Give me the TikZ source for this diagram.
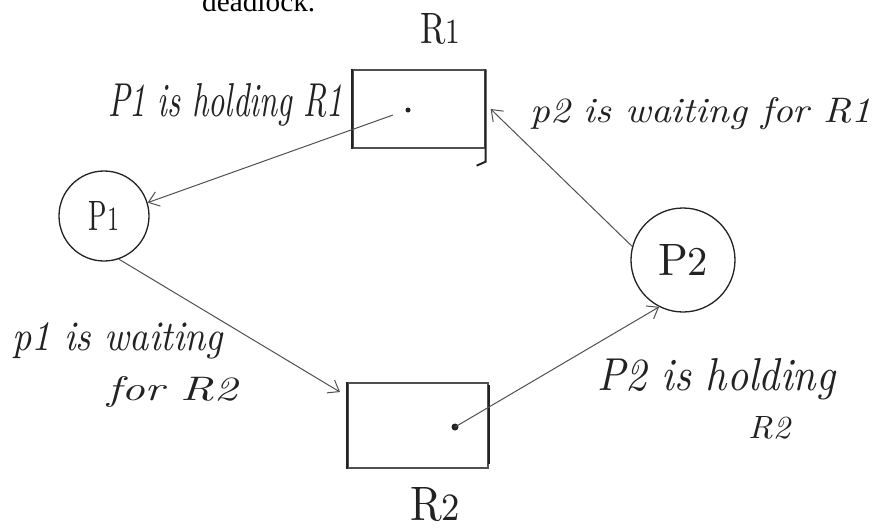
\documentclass[tikz,border=0pt]{standalone}
\usepackage{fontspec}
\usepackage{graphicx}
\usetikzlibrary{arrows.meta}
\newfontfamily\printfont{Liberation Serif}
\definecolor{ink}{HTML}{222222}
\definecolor{pencil}{HTML}{505050}
% scale a handwritten-style phrase to a given width and height (pt)
\newcommand{\handtext}[3]{\resizebox{#1pt}{#2pt}{#3}}

\begin{document}
\begin{tikzpicture}[x=1pt,y=-1pt,
  hand/.style={text=ink, inner sep=0pt, font=\itshape},
  tag/.style={text=ink, inner sep=0pt, font=\upshape},
  proc/.style={circle, draw=ink, line width=1.3pt, inner sep=0pt, text=ink},
  res/.style={rectangle, draw=pencil, line width=1.3pt, inner sep=0pt},
  side/.style={draw=ink, line width=1.9pt},
  unit/.style={circle, fill=ink, inner sep=0pt},
  link/.style={draw=pencil, line width=1pt,
    -{Straight Barb[length=10pt,width=15pt,line width=1pt]}}]

\useasboundingbox (0,0) rectangle (883,528);
\fill[white] (0,0) rectangle (883,528);
\clip (0,0) rectangle (883,528);

% printed line of the page above the sketch
\node[anchor=base west, inner sep=0pt, font=\printfont] (caption) at (202,11)
  {\resizebox{113pt}{!}{deadlock.}};

% processes
\node[proc, minimum size=90pt] (P1) at (104,216)
  {\handtext{30}{29}{P{\footnotesize 1}}};
\node[proc, minimum size=104pt] (P2) at (683,260)
  {\handtext{50}{31}{P{\small 2}}};

% resources
\node[res, minimum width=132pt, minimum height=78pt] (R1) at (419,109) {};
\node[res, minimum width=140pt, minimum height=85pt] (R2) at (418,425.5) {};
\draw[side] (R1.north west) -- (R1.south west);
\draw[side] (R1.north east) -- ([yshift=-13pt]R1.south east) -- ++(-9,4);
\draw[side] (R2.north west) -- (R2.south west);
\draw[side] ([yshift=-3pt]R2.north east) -- ([yshift=5pt]R2.south east);

% resource instances
\node[unit, minimum size=5pt] (r1dot) at (408,110) {};
\node[unit, minimum size=7pt] (r2dot) at (455,427) {};

% resource names
\node[tag, anchor=base west] (R1name) at (420,43)
  {\handtext{40}{30}{R{\footnotesize 1}}};
\node[tag, anchor=base west] (R2name) at (410,520)
  {\handtext{50}{33}{R{\footnotesize 2}}};

% edges
\coordinate (r1tail) at (393,115);
\coordinate (r2in) at (340,392);
\draw[link] (r1tail) -- (P1.17);
\draw[link] (P1.-71) -- (r2in);
\draw[link] (r2dot.center) -- (P2.-117);
\draw[link] (P2.165) -- ([xshift=5pt]R1.east);

% annotations
\node[hand, anchor=base west] (holdA) at (108,116)
  {\handtext{235}{33}{P1 is holding R1}};
\node[hand, anchor=base west] (waitB) at (530,122)
  {\handtext{341}{25}{p2 is waiting for R1}};
\node[hand, anchor=base west] (waitA1) at (12,350)
  {\handtext{211}{28}{p1 is waiting}};
\node[hand, anchor=base west] (waitA2) at (107,400)
  {\handtext{130}{24}{for R2}};
\node[hand, anchor=base west] (holdB1) at (597,390)
  {\handtext{238}{32}{P2 is holding}};
\node[hand, anchor=base west] (holdB2) at (748,438)
  {\handtext{42}{22}{R2}};
\end{tikzpicture}
\end{document}
